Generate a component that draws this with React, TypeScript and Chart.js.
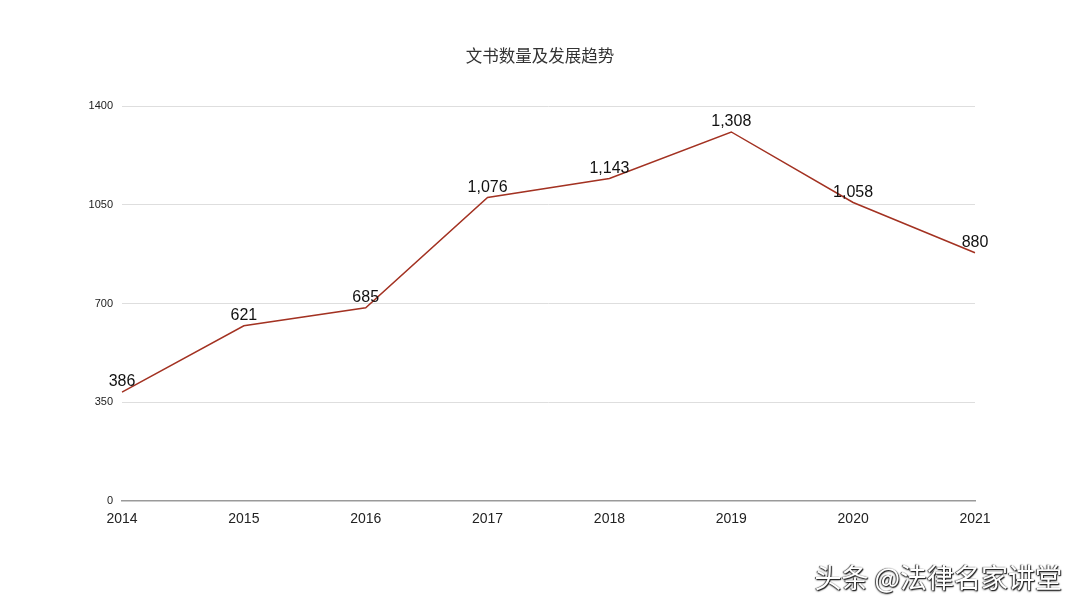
import React, { useEffect, useRef } from "react";
import { Chart, registerables } from "chart.js";

Chart.register(...registerables);

const years = ["2014", "2015", "2016", "2017", "2018", "2019", "2020", "2021"];
const counts = [386, 621, 685, 1076, 1143, 1308, 1058, 880];
const yTicks = [0, 350, 700, 1050, 1400];
const titleText = "文书数量及发展趋势";
const watermark = "头条 @法律名家讲堂";

const LATIN = '"Liberation Sans", Arial, Helvetica, sans-serif';

const labelPlugin = {
  id: "pointLabels",
  afterDatasetsDraw(chart: any) {
    const ctx = chart.ctx;
    const meta = chart.getDatasetMeta(0);
    ctx.save();
    ctx.font = `16px ${LATIN}`;
    ctx.fillStyle = "#111";
    ctx.textAlign = "center";
    ctx.textBaseline = "middle";
    meta.data.forEach((pt: any, i: number) => {
      ctx.fillText(counts[i].toLocaleString("en-US"), pt.x, pt.y - 10);
    });
    ctx.restore();
  },
};

const titlePlugin = {
  id: "centerTitle",
  afterDraw(chart: any) {
    const ctx = chart.ctx;
    ctx.save();
    ctx.font = `16.5px "Noto Sans CJK SC", sans-serif`;
    ctx.fillStyle = "#333";
    ctx.textAlign = "center";
    ctx.textBaseline = "middle";
    ctx.fillText(titleText, chart.width / 2, 56);
    ctx.restore();
  },
};

export default function App() {
  const ref = useRef<HTMLCanvasElement | null>(null);
  useEffect(() => {
    if (!ref.current) return;
    const chart = new Chart(ref.current, {
      type: "line",
      data: {
        labels: years,
        datasets: [
          {
            data: counts,
            borderColor: "#a33222",
            borderWidth: 1.5,
            pointRadius: 0,
            tension: 0,
            fill: false,
          },
        ],
      },
      options: {
        animation: false,
        responsive: false,
        maintainAspectRatio: false,
        layout: { padding: { left: 0, right: 105, top: 106, bottom: 0 } },
        plugins: {
          legend: { display: false },
          tooltip: { enabled: false },
          title: { display: false },
        },
        scales: {
          x: {
            offset: false,
            grid: { display: false, drawTicks: false },
            border: { display: true, color: "#9a9a9a", width: 1.5 },
            ticks: { color: "#222", font: { family: LATIN, size: 14 }, padding: 10, maxRotation: 0 },
            afterFit(scale: any) {
              scale.height = 107;
            },
          },
          y: {
            min: 0,
            max: 1400,
            afterBuildTicks(scale: any) {
              scale.ticks = yTicks.map((v) => ({ value: v }));
            },
            grid: {
              drawTicks: false,
              color: (c: any) => (c.tick && c.tick.value === 0 ? "rgba(0,0,0,0)" : "#dedede"),
              lineWidth: 1,
            },
            border: { display: false },
            ticks: {
              color: "#222",
              font: { family: LATIN, size: 11 },
              padding: 9,
              callback: (v: any) => String(v),
            },
            afterFit(scale: any) {
              scale.width = 122;
            },
          },
        },
      },
      plugins: [labelPlugin, titlePlugin],
    });
    return () => chart.destroy();
  }, []);

  return (
    <div style={{ position: "fixed", left: 0, top: 0, width: 1080, height: 608, background: "#fff" }}>
      <canvas ref={ref} width={1080} height={608} style={{ display: "block" }} />
      <div
        style={{
          position: "absolute",
          right: 18,
          top: 559,
          fontFamily: '"Noto Sans CJK SC", sans-serif',
          fontSize: 27,
          color: "#fff",
          whiteSpace: "nowrap",
          textShadow: "1px 1px 1px #222, -1px 0 1px #444, 0 1px 2px #333",
          lineHeight: "36px",
        }}
      >
        {watermark}
      </div>
    </div>
  );
}
